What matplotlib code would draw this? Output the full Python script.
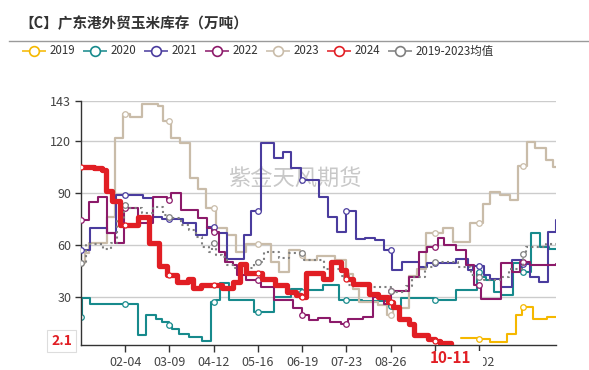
import numpy as np
import pandas as pd
import matplotlib
matplotlib.use("Agg")
import matplotlib.pyplot as plt
from matplotlib.lines import Line2D
from matplotlib.patches import Rectangle
import matplotlib.transforms as mtrans

plt.rcParams['font.family'] = ['Noto Sans CJK SC', 'DejaVu Sans']

# ---------------- data (step breakpoints: value holds from date until next date) ----------------
d2019 = ['10-19', '11-01', '11-10', '11-23', '11-30', '12-05', '12-13', '12-24', '12-31']
v2019 = [6.2, 5.8, 3.9, 8.7, 19.3, 24.1, 17.0, 18.3, 18.3]

d2020 = ['01-01', '01-02', '01-08', '02-14', '02-20', '02-28', '03-03', '03-09', '03-11', '03-16',
         '03-24', '04-03', '04-10', '04-14', '04-17', '04-24', '05-13', '05-28', '06-10', '06-19',
         '06-22', '07-05', '07-17', '08-04', '08-24', '09-03', '09-19', '09-29', '10-15', '10-31',
         '11-03', '11-07', '11-13', '11-19', '11-28', '12-05', '12-12', '12-19', '12-26', '12-31']
v2020 = [18.3, 29.5, 25.5, 8.1, 19.3, 17.4, 15.4, 13.5, 11.6, 8.7,
         6.8, 4.3, 27.0, 28.0, 38.0, 28.0, 21.2, 29.9, 34.5, 32.8,
         33.8, 36.6, 28.0, 27.5, 24.5, 29.5, 29.0, 28.0, 33.8, 44.3,
         41.5, 39.5, 32.8, 31.2, 49.2, 44.3, 66.5, 58.8, 57.8, 57.8]

d2021 = ['01-01', '01-08', '01-21', '01-28', '02-18', '02-25', '03-03', '03-19', '03-29', '04-07',
         '04-14', '04-22', '05-05', '05-11', '05-18', '05-28', '06-04', '06-10', '06-18', '07-02',
         '07-09', '07-16', '07-23', '07-30', '08-06', '08-14', '08-21', '08-27', '09-04', '09-17',
         '09-23', '10-15', '10-24', '10-28', '11-06', '11-10', '11-19', '11-27', '12-05', '12-11',
         '12-18', '12-25', '12-31']
v2021 = [56.9, 69.4, 66.5, 88.7, 86.8, 76.1, 75.0, 72.3, 65.5, 70.4,
         66.5, 51.5, 65.5, 79.5, 118.9, 110.2, 113.7, 104.1, 97.5, 87.3,
         76.1, 67.5, 79.4, 63.2, 64.0, 62.6, 56.9, 45.3, 50.1, 47.2,
         49.2, 51.7, 45.3, 47.8, 42.4, 40.5, 35.7, 51.1, 49.0, 41.5,
         38.6, 67.5, 74.2]

d2022 = ['01-01', '01-07', '01-14', '01-21', '01-27', '02-03', '02-14', '02-25', '03-07', '03-10',
         '03-18', '03-31', '04-07', '04-11', '04-16', '04-21', '04-27', '04-30', '05-07', '05-18',
         '05-28', '06-12', '06-19', '06-24', '07-01', '07-10', '07-19', '07-24', '08-05', '08-12',
         '08-21', '08-26', '09-09', '09-17', '09-23', '10-01', '10-06', '10-15', '10-23', '10-29',
         '11-03', '11-19', '11-27', '12-03', '12-11', '12-31']
v2022 = [74.2, 84.8, 87.7, 66.5, 61.1, 81.0, 72.5, 87.7, 85.8, 89.6,
         80.0, 75.2, 69.4, 67.5, 55.9, 50.1, 48.2, 42.4, 39.5, 35.7,
         28.0, 23.2, 19.3, 16.4, 17.8, 15.4, 14.2, 17.4, 18.3, 29.9,
         26.0, 33.2, 41.5, 55.9, 58.8, 64.0, 60.0, 56.9, 48.2, 37.0,
         28.5, 49.2, 44.3, 50.1, 48.5, 49.0]

d2023 = ['01-01', '01-04', '01-07', '01-21', '01-27', '02-02', '02-08', '02-17', '02-29', '03-04',
         '03-10', '03-17', '03-25', '03-31', '04-06', '04-14', '04-22', '04-29', '05-07', '05-26',
         '06-01', '06-09', '06-17', '06-21', '06-30', '07-14', '07-23', '07-28', '08-02', '08-16',
         '08-23', '08-28', '09-09', '09-15', '09-22', '09-30', '10-05', '10-13', '10-26', '11-05',
         '11-10', '11-18', '11-26', '12-02', '12-09', '12-15', '12-23', '12-29', '12-31']
v2023 = [49.2, 55.0, 61.0, 76.0, 121.4, 135.3, 134.0, 141.5, 140.3, 131.6,
         121.4, 118.5, 98.3, 92.0, 81.0, 69.4, 65.5, 56.0, 60.2, 50.0,
         44.3, 57.0, 54.0, 51.1, 53.4, 51.0, 43.0, 34.7, 27.0, 25.0,
         19.5, 23.2, 42.0, 46.0, 66.5, 67.0, 69.4, 61.7, 72.3, 83.8,
         90.6, 88.7, 85.8, 105.4, 119.5, 115.6, 108.9, 105.0, 105.0]

d2024 = ['01-01', '01-11', '01-17', '01-20', '01-25', '01-31', '02-14', '02-22', '03-01', '03-07',
         '03-15', '03-23', '03-27', '04-02', '04-18', '04-27', '05-02', '05-07', '05-19', '05-29',
         '06-07', '06-14', '06-18', '06-22', '07-05', '07-11', '07-19', '07-23', '07-28', '08-09',
         '08-16', '08-24', '08-28', '09-01', '09-09', '09-13', '09-24', '09-29', '10-03', '10-11']
v2024 = [104.7, 104.2, 103.0, 91.0, 85.0, 71.3, 76.0, 61.0, 48.0, 42.5,
         38.5, 40.0, 35.0, 36.5, 35.0, 38.5, 49.0, 43.4, 40.5, 36.6,
         32.5, 30.8, 29.9, 43.4, 40.5, 50.0, 45.3, 40.5, 37.6, 31.8,
         29.9, 27.0, 24.0, 17.4, 14.5, 7.7, 5.8, 4.5, 3.3, 2.1]

d_avg = ['01-01', '01-05', '01-18', '01-24', '01-29', '02-03', '02-07', '02-17', '02-25', '03-04',
         '03-08', '03-12', '03-18', '03-24', '03-29', '04-03', '04-08', '04-11', '04-14', '04-18',
         '04-22', '04-28', '05-13', '05-21', '06-01', '06-09', '06-20', '07-06', '07-19', '07-24',
         '08-09', '08-26', '08-29', '09-07', '09-11', '09-21', '09-29', '10-17', '10-27', '11-02',
         '11-06', '11-18', '11-25', '12-06', '12-08', '12-23', '12-31']
v_avg = [49.2, 60.5, 57.8, 61.0, 75.0, 82.9, 81.0, 78.1, 82.0, 77.0,
         76.1, 75.2, 71.3, 68.4, 64.6, 58.8, 55.9, 61.1, 54.0, 53.0,
         48.2, 46.5, 50.1, 55.9, 52.5, 55.0, 51.1, 45.8, 42.0, 36.6,
         35.7, 33.3, 32.5, 36.0, 41.4, 47.2, 50.1, 47.2, 42.4, 41.4,
         39.5, 41.4, 46.2, 54.6, 58.5, 60.4, 60.4]

x_tick_labels = ['02-04', '03-09', '04-12', '05-16', '06-19', '07-23', '08-26', '09-29', '11-02']
y_ticks = [30, 60, 90, 120, 143]
y_min, y_max = 2.1, 143

title = '【C】广东港外贸玉米库存（万吨）'
watermark = '紫金天风期货'


def doy(dates):
    ts = pd.to_datetime(['2024-' + d for d in dates])
    return np.asarray((ts - pd.Timestamp('2024-01-01')).days, dtype=float)


series = [
    ('2019', d2019, v2019, '#F5B800', 1.5, '-', 2),
    ('2020', d2020, v2020, '#178A8C', 1.5, '-', 2),
    ('2021', d2021, v2021, '#4A3C9E', 1.5, '-', 3),
    ('2022', d2022, v2022, '#8C1A6A', 1.5, '-', 3),
    ('2023', d2023, v2023, '#C9BCA9', 1.6, '-', 2),
    ('2024', d2024, v2024, '#E11E24', 3.8, '-', 6),
    ('2019-2023均值', d_avg, v_avg, '#7F7F7F', 1.5, (0, (1, 1.6)), 5),
]

W, H = 589, 370
fig = plt.figure(figsize=(W / 100, H / 100), dpi=100)
ax = fig.add_axes([81 / W, 25 / H, 475 / W, 244 / H])

marker_days = np.arange(0, 366, 34)

for name, dates, vals, color, lw, ls, z in series:
    x = doy(dates)
    y = np.asarray(vals, dtype=float)
    ax.plot(x, y, drawstyle='steps-post', color=color, lw=lw, ls=ls,
            solid_joinstyle='round', solid_capstyle='round', zorder=z)
    mk = marker_days[(marker_days >= x[0]) & (marker_days <= x[-1])]
    idx = np.searchsorted(x, mk, side='right') - 1
    ms = 4.0 if name != '2024' else 3.6
    ax.plot(mk, y[idx], 'o', mfc='white', mec=color,
            ms=ms, mew=0.9, ls='none', zorder=z + 0.5)

last_day = doy([d2024[-1]])[0]

ax.set_xlim(0, 365)
ax.set_ylim(y_min, y_max)
ax.set_yticks(y_ticks)
ax.set_yticklabels([str(t) for t in y_ticks])
xt = doy(x_tick_labels)
ax.set_xticks(xt)
# the latest-date label covers the tick label right under it
ax.set_xticklabels(['' if abs(t - last_day) < 14 else lab for t, lab in zip(xt, x_tick_labels)])
ax.grid(axis='y', color='#CCCCCC', lw=1)
ax.set_axisbelow(True)
for s in ['top', 'right']:
    ax.spines[s].set_visible(False)
for s in ['left', 'bottom']:
    ax.spines[s].set_color('#333333')
    ax.spines[s].set_linewidth(1)
ax.tick_params(axis='x', length=5, width=1, color='#333333', labelsize=9,
               labelcolor='#444444', pad=3)
ax.tick_params(axis='y', length=4, width=1, color='#333333', labelsize=9,
               labelcolor='#444444', pad=3)

# latest-value labels
bt = mtrans.blended_transform_factory(ax.transData, ax.transAxes)
cover = Rectangle((last_day - 26, -0.105), 51, 0.08, transform=bt,
                  facecolor='white', edgecolor='none', clip_on=False, zorder=20)
ax.add_patch(cover)
ax.text(last_day, -0.055, d2024[-1], transform=bt,
        ha='center', va='center', color='#E11E24', fontsize=11, fontweight='bold',
        clip_on=False, zorder=21)
ax.text(-0.019, v2024[-1] + 2.2, f'{v2024[-1]}',
        transform=mtrans.blended_transform_factory(ax.transAxes, ax.transData),
        ha='right', va='center', color='#E11E24', fontsize=10, fontweight='bold', zorder=21,
        bbox=dict(boxstyle='square,pad=0.3', facecolor='white', edgecolor='#DDDDDD', lw=0.8),
        clip_on=False)

# watermark
ax.text(0.45, 0.68, watermark, transform=ax.transAxes, ha='center', va='center',
        fontsize=16, color='#C8C8C8', zorder=1)

# title and separator
fig.text(19 / W, 1 - 23 / H, title, ha='left', va='center', fontsize=10.5,
         fontweight='bold', color='#333333')
fig.add_artist(Line2D([9 / W, 1], [1 - 40.7 / H, 1 - 40.7 / H], color='#9A9A9A', lw=1))

# legend
ly = 1 - 51 / H
for i, (name, dates, vals, color, lw, ls, z) in enumerate(series):
    cx = 34 + 61 * i
    fig.add_artist(Line2D([(cx - 11) / W, (cx + 11) / W], [ly, ly], color=color, lw=1.4,
                          alpha=0.8))
    fig.add_artist(Line2D([cx / W], [ly], marker='o', ms=7, mfc='white', mec=color,
                          mew=1.2, ls='none'))
    fig.text((cx + 16) / W, ly, name, ha='left', va='center', fontsize=8.3, color='#333333')

fig.savefig('out.png', dpi=100)
